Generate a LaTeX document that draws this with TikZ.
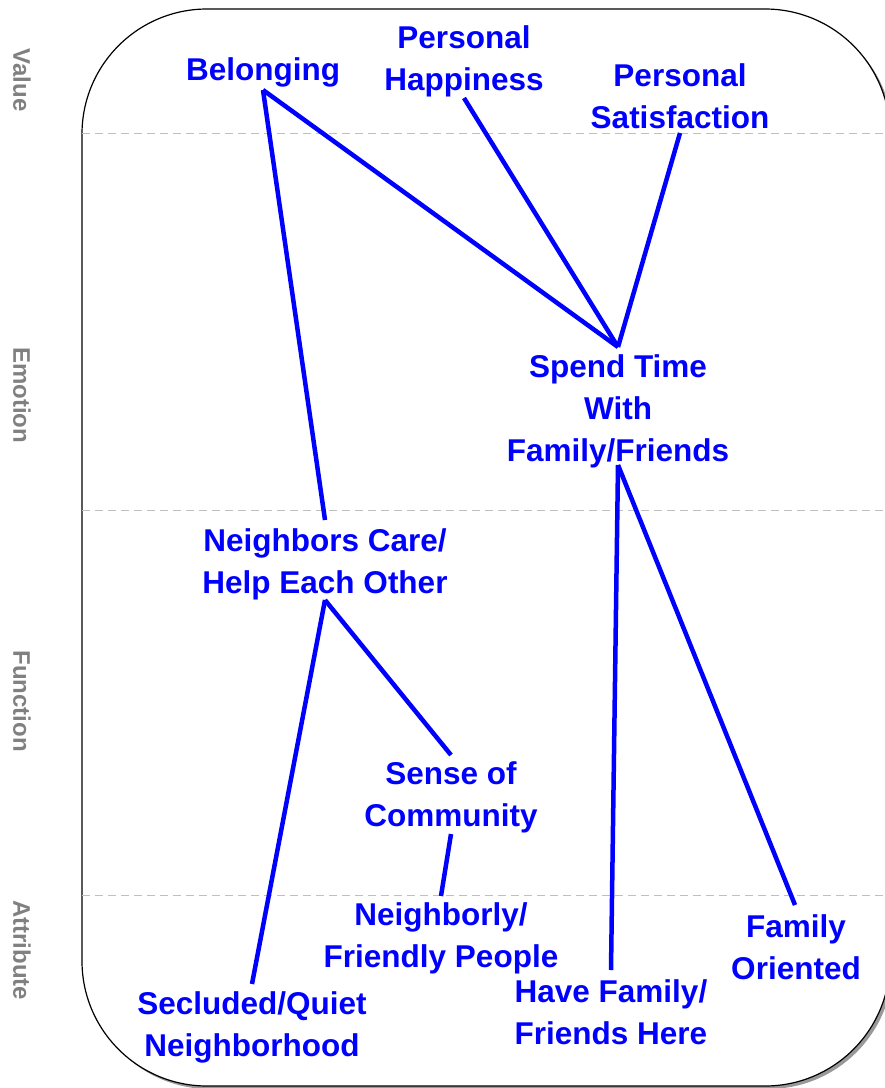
\documentclass[tikz,border=0pt]{standalone}
\usepackage{fontspec}
\setmainfont{Liberation Sans}
\begin{document}
\begin{tikzpicture}[x=1bp,y=-1bp,
  lbl/.style={font=\bfseries\fontsize{31.5bp}{42bp}\selectfont, text=blue, align=center, inner sep=2bp},
  side/.style={font=\bfseries\fontsize{24bp}{28bp}\selectfont, text=black!50, rotate=-90, inner sep=0pt},
  link/.style={draw=blue, line width=4.5bp},
  sep/.style={draw=black!25, line width=1bp, dash pattern=on 8bp off 5bp}]
\useasboundingbox (0,0) rectangle (885,1088);
\begin{scope}
\clip (0,0) rectangle (885,1088);
\fill[black!40, rounded corners=125bp] (85,12) rectangle (893,1089);
\draw[black, line width=1.2bp, fill=white, rounded corners=125bp] (82,9) rectangle (890,1086);
\draw[sep] (82,133) -- (885,133);
\draw[sep] (82,510) -- (885,510);
\draw[sep] (82,895) -- (885,895);
\end{scope}
\node[side] (v) at (22,80) {Value};
\node[side] (e) at (22,395) {Emotion};
\node[side] (f) at (22,701) {Function};
\node[side] (a) at (22,950) {Attribute};
\node[lbl] (bel) at (263,72) {Belonging};
\node[lbl] (ph) at (464,61) {Personal\\Happiness};
\node[lbl] (ps) at (680,96) {Personal\\Satisfaction};
\node[lbl] (st) at (618,411) {Spend Time\\With\\Family/Friends};
\node[lbl] (nc) at (325,564) {Neighbors Care/\\Help Each Other};
\node[lbl] (sc) at (451,797) {Sense of\\Community};
\node[lbl] (nf) at (441,938) {Neighborly/\\Friendly People};
\node[lbl] (sq) at (252,1027) {Secluded/Quiet\\Neighborhood};
\node[lbl] (hf) at (611,1012) {Have Family/\\Friends Here};
\node[lbl] (fo) at (796,947) {Family\\Oriented};
\coordinate (stt) at (618,347);
\draw[link] (263,90) coordinate (belb) -- (stt);
\draw[link] (belb) -- (325,520) coordinate (nct);
\draw[link] (464,98) coordinate (phb) -- (stt);
\draw[link] (680,133) coordinate (psb) -- (stt);
\draw[link] (618,465) coordinate (stb) -- (611,970) coordinate (hft);
\draw[link] (stb) -- (795,905) coordinate (fot);
\draw[link] (325,600) coordinate (ncb) -- (252,984) coordinate (sqt);
\draw[link] (ncb) -- (451,755) coordinate (sct);
\draw[link] (451,834) coordinate (scb) -- (441,896) coordinate (nft);
\end{tikzpicture}
\end{document}
